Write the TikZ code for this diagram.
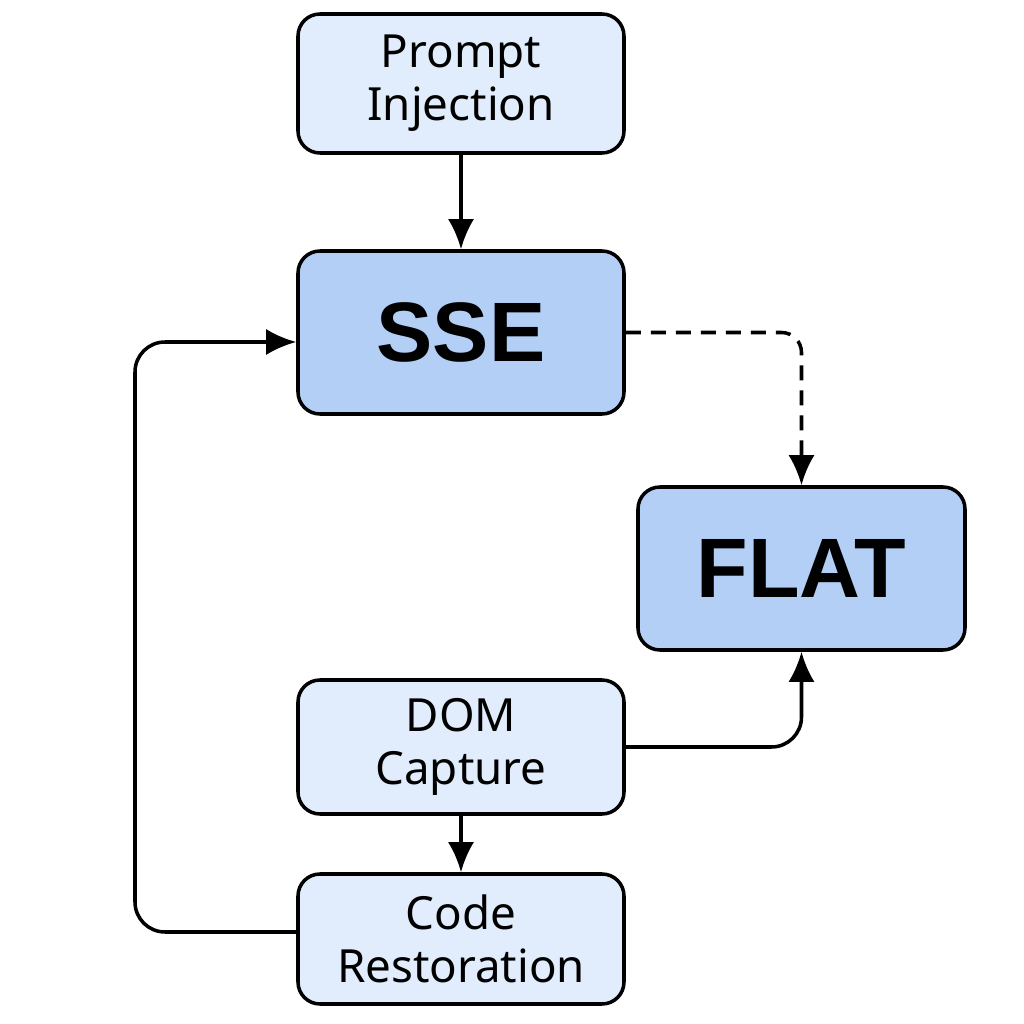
\documentclass[tikz,border=0pt]{standalone}
\usepackage{fontspec}
\setmainfont{Noto Sans}
\newfontfamily\headfont{Liberation Sans}
\usetikzlibrary{shapes,arrows.meta,calc}
\definecolor{boxlight}{HTML}{E1EDFC}
\definecolor{boxdark}{HTML}{B3CFF6}

\begin{document}
\begin{tikzpicture}[auto, >={Latex[length=3mm,width=2.6mm]}, line width=1pt,
  stage/.style={draw, rounded corners=0.22cm, fill=boxlight, minimum width=3.26cm,
    align=center, font=\fontsize{13}{15}\selectfont, inner sep=0pt},
  core/.style={stage, fill=boxdark, minimum height=1.63cm, font=\headfont\bfseries\fontsize{24}{28}\selectfont}]

\useasboundingbox (0,0) rectangle (10.24,10.24);

\node[stage, minimum height=1.39cm] at (4.61, 9.405) (PI) {Prompt\\Injection};
\node[core] at (4.61, 6.915) (SSE) {SSE};
\node[core, minimum width=3.27cm] at (8.015, 4.555) (FLAT) {FLAT};
\node[stage, minimum height=1.34cm] at (4.61, 2.77) (DOM) {DOM\\Capture};
\node[stage, minimum height=1.30cm] at (4.61, 0.85) (CR) {Code\\Restoration};
\coordinate (loop) at (1.35, 4);

\draw [->] (PI) to (SSE);
\draw [->, dash pattern=on 1.5mm off 1mm, rounded corners=0.2cm] (SSE.east) -| (FLAT.north);
\draw [->, rounded corners=0.3cm] (DOM.east) -| (FLAT.south);
\draw [->] (DOM) to (CR);
\draw [->, rounded corners=0.3cm] ([yshift=0.07cm]CR.west) -| (loop) |- ([yshift=-0.095cm]SSE.west);

\end{tikzpicture}
\end{document}
